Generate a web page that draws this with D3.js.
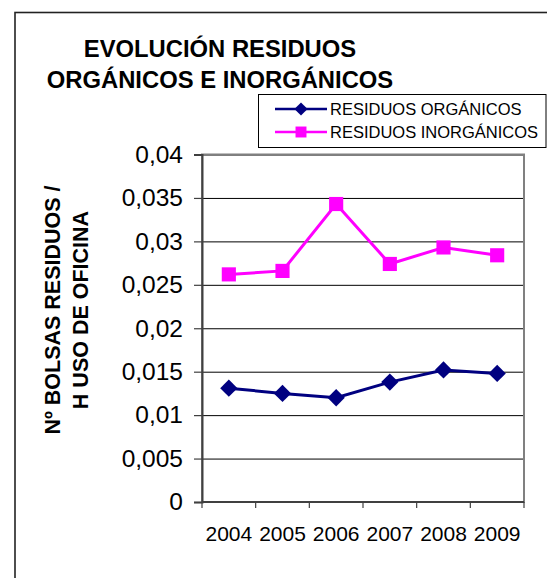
<!DOCTYPE html>
<html>
<head>
<meta charset="utf-8">
<script src="https://cdn.jsdelivr.net/npm/d3@7"></script>
<style>
  body { margin: 0; background: #fff; }
  svg { display: block; font-family: "Liberation Sans", Arial, sans-serif; }
</style>
</head>
<body>
<div id="visual"></div>
<script>
///// DATA /////
var years = ["2004", "2005", "2006", "2007", "2008", "2009"];
var organicos = [0.0131, 0.0125, 0.0120, 0.0138, 0.0152, 0.0148];
var inorganicos = [0.0262, 0.0266, 0.0343, 0.0274, 0.0293, 0.0284];
var yTicks = [0, 0.005, 0.01, 0.015, 0.02, 0.025, 0.03, 0.035, 0.04];
var seriesNames = ["RESIDUOS ORGÁNICOS", "RESIDUOS INORGÁNICOS"];
var titleLines = ["EVOLUCIÓN RESIDUOS", "ORGÁNICOS E INORGÁNICOS"];
var yTitleLines = ["Nº BOLSAS RESIDUOS /", "H USO DE OFICINA"];

///// DIMENSIONS /////
var W = 547, H = 578;
var plot = { left: 202, right: 524, top: 154.5, bottom: 502 };
var colors = ["#000080", "#ff00ff"];

var svg = d3.select("#visual").append("svg")
  .attr("width", W).attr("height", H);

svg.append("rect").attr("width", W).attr("height", H).attr("fill", "#fff");

// outer frame (runs off the page on the right and bottom)
svg.append("rect")
  .attr("x", 15).attr("y", 12.5)
  .attr("width", 700).attr("height", 700)
  .attr("fill", "none").attr("stroke", "#222").attr("stroke-width", 1.6);

///// SCALES /////
var x = d3.scaleBand().domain(years).range([plot.left, plot.right]).padding(0);
var y = d3.scaleLinear().domain([0, 0.04]).range([plot.bottom, plot.top]);

var es = d3.formatLocale({ decimal: ",", thousands: ".", grouping: [3], currency: ["", "€"] });
var fmt = es.format(".3~f");

///// GRID /////
svg.append("g")
  .attr("transform", "translate(" + plot.left + ",0)")
  .call(d3.axisLeft(y).tickValues(yTicks).tickSize(-(plot.right - plot.left)).tickFormat(""))
  .call(g => g.select(".domain").remove())
  .selectAll("line").attr("stroke", "#000").attr("stroke-width", 1);

// plot frame
svg.append("rect")
  .attr("x", plot.left).attr("y", plot.top)
  .attr("width", plot.right - plot.left).attr("height", plot.bottom - plot.top)
  .attr("fill", "none").attr("stroke", "#808080").attr("stroke-width", 2);

///// AXES /////
var yAxis = svg.append("g")
  .attr("transform", "translate(" + plot.left + ",0)")
  .call(d3.axisLeft(y).tickValues(yTicks).tickSize(8).tickPadding(11).tickFormat(fmt));
yAxis.select(".domain").attr("stroke", "#404040").attr("stroke-width", 2);
yAxis.selectAll("line").attr("stroke", "#404040").attr("stroke-width", 1.2);
yAxis.selectAll("text").attr("font-size", 24.5).attr("fill", "#000")
  .attr("font-family", "Liberation Sans, Arial, sans-serif");

// x axis line + ticks at category boundaries
var xAxis = svg.append("g").attr("transform", "translate(0," + plot.bottom + ")");
xAxis.append("line")
  .attr("x1", plot.left).attr("x2", plot.right)
  .attr("stroke", "#404040").attr("stroke-width", 2);
var bounds = d3.range(years.length + 1).map(i => plot.left + i * x.bandwidth());
xAxis.selectAll(".xtick").data(bounds).enter().append("line")
  .attr("x1", d => d).attr("x2", d => d)
  .attr("y1", 0).attr("y2", 6)
  .attr("stroke", "#404040").attr("stroke-width", 1.2);
xAxis.selectAll(".xlabel").data(years).enter().append("text")
  .attr("x", d => x(d) + x.bandwidth() / 2)
  .attr("y", 39)
  .attr("text-anchor", "middle")
  .attr("font-size", 21)
  .text(d => d);

///// LINES /////
var cx = (d, i) => x(years[i]) + x.bandwidth() / 2;
var line = d3.line().x(cx).y(d => y(d));

svg.append("path").datum(organicos)
  .attr("d", line).attr("fill", "none")
  .attr("stroke", colors[0]).attr("stroke-width", 3);
svg.append("path").datum(inorganicos)
  .attr("d", line).attr("fill", "none")
  .attr("stroke", colors[1]).attr("stroke-width", 3);

var diamond = d3.symbol().type(d3.symbolDiamond2).size(190);
var square = d3.symbol().type(d3.symbolSquare).size(200);

svg.selectAll(".org").data(organicos).enter().append("path")
  .attr("d", diamond)
  .attr("transform", (d, i) => "translate(" + cx(d, i) + "," + y(d) + ")")
  .attr("fill", colors[0]);
svg.selectAll(".inorg").data(inorganicos).enter().append("path")
  .attr("d", square)
  .attr("transform", (d, i) => "translate(" + cx(d, i) + "," + y(d) + ")")
  .attr("fill", colors[1]);

///// TITLE /////
svg.selectAll(".title").data(titleLines).enter().append("text")
  .attr("x", 220)
  .attr("y", (d, i) => 57 + i * 31)
  .attr("text-anchor", "middle")
  .attr("font-size", 23.8)
  .attr("font-weight", "bold")
  .text(d => d);

///// Y TITLE /////
svg.selectAll(".ytitle").data(yTitleLines).enter().append("text")
  .attr("transform", (d, i) => "translate(" + (52 + i * 28) + ",310) rotate(-90)")
  .attr("dy", "0.36em")
  .attr("text-anchor", "middle")
  .attr("font-size", 21.5)
  .attr("font-weight", "bold")
  .text(d => d);

///// LEGEND /////
var legend = svg.append("g");
legend.append("rect")
  .attr("x", 258.5).attr("y", 94.5)
  .attr("width", 287.5).attr("height", 53)
  .attr("fill", "#fff").attr("stroke", "#000").attr("stroke-width", 1);

var items = legend.selectAll(".item").data(seriesNames).enter().append("g")
  .attr("transform", (d, i) => "translate(275," + (109 + i * 23) + ")");
items.append("line")
  .attr("x1", 0).attr("x2", 52)
  .attr("stroke", (d, i) => colors[i]).attr("stroke-width", 2.5);
items.append("path")
  .attr("d", (d, i) => i === 0
    ? d3.symbol().type(d3.symbolDiamond2).size(110)()
    : d3.symbol().type(d3.symbolSquare).size(120)())
  .attr("transform", "translate(26,0)")
  .attr("fill", (d, i) => colors[i]);
items.append("text")
  .attr("x", 55).attr("dy", "0.36em")
  .attr("font-size", 16.5)
  .text(d => d);
</script>
</body>
</html>
